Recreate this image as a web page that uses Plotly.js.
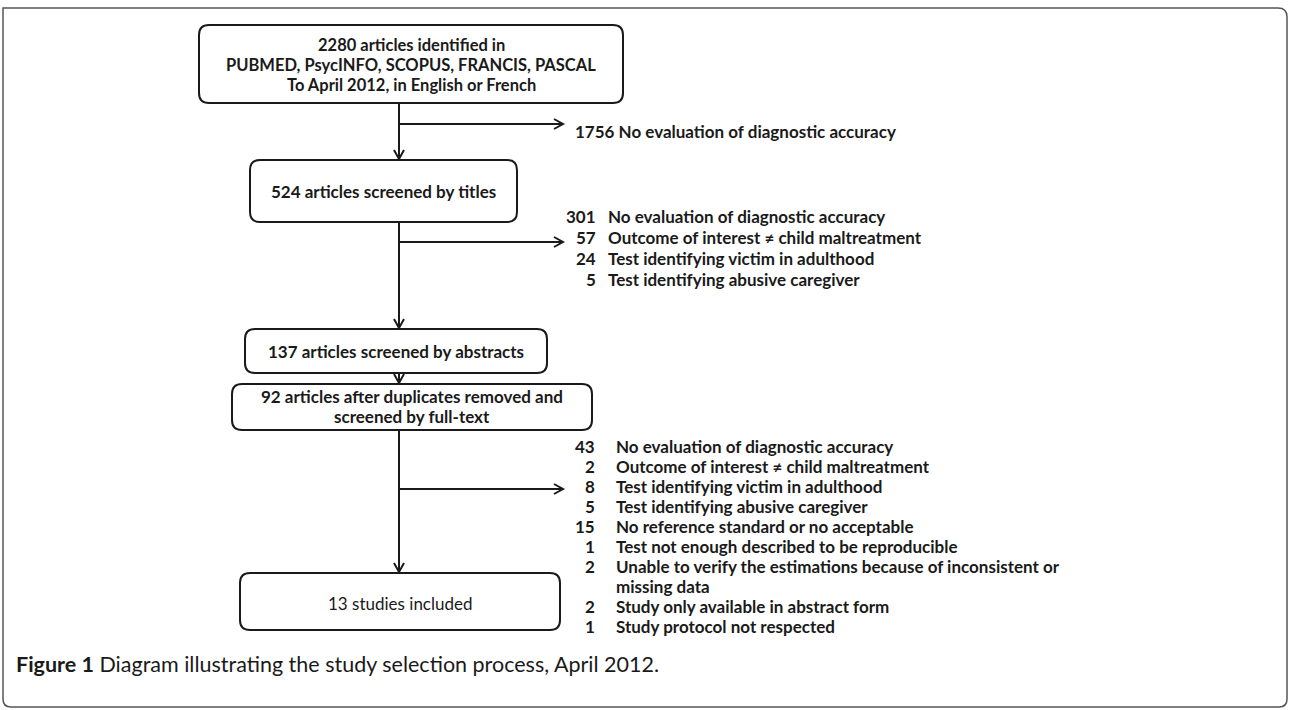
<!DOCTYPE html>
<html>
<head>
<meta charset="utf-8">
<script src="https://cdn.plot.ly/plotly-3.0.1.min.js"></script>
<style>html,body{margin:0;padding:0;background:#fff;}#chart{width:1290px;height:710px;}</style>
</head>
<body>
<div id="chart"></div>
<script>
// ---- data ----
var boxLabels = [
  ["2280 articles identified in", "PUBMED, PsycINFO, SCOPUS, FRANCIS, PASCAL", "To April 2012, in English or French"],
  ["524 articles screened by titles"],
  ["137 articles screened by abstracts"],
  ["92 articles after duplicates removed and", "screened by full-text"],
  ["13 studies included"]
];
var excl1Counts = [1756];
var excl1Reasons = ["No evaluation of diagnostic accuracy"];
var excl2Counts = [301, 57, 24, 5];
var excl2Reasons = ["No evaluation of diagnostic accuracy", "Outcome of interest \u2260 child maltreatment",
  "Test identifying victim in adulthood", "Test identifying abusive caregiver"];
var excl3Counts = [43, 2, 8, 5, 15, 1, 2, null, 2, 1];
var excl3Reasons = ["No evaluation of diagnostic accuracy", "Outcome of interest \u2260 child maltreatment",
  "Test identifying victim in adulthood", "Test identifying abusive caregiver",
  "No reference standard or no acceptable", "Test not enough described to be reproducible",
  "Unable to verify the estimations because of inconsistent or", "missing data",
  "Study only available in abstract form", "Study protocol not respected"];
var captionBold = "Figure 1";
var captionText = " Diagram illustrating the study selection process, April 2012.";

// ---- geometry (layout only) ----
var G = {
  cx: 399,
  boxes: [
    {x0:199, x1:623, y0:25,  y1:103, ys:[45,65,85], bold:true, fs:16.5},
    {x0:250, x1:517, y0:160, y1:222, ys:[191], bold:true, fs:17},
    {x0:245, x1:547, y0:329, y1:373, ys:[351], bold:true, fs:17},
    {x0:232, x1:592, y0:384, y1:430, ys:[396,416], bold:true, fs:17},
    {x0:240, x1:560, y0:573, y1:630, ys:[603], bold:false, fs:17}
  ],
  arrowTip: 563,
  branchY: [124, 242, 489],
  list1: {x:573, ys:[131]},
  list2: {numRight:598, textX:606, y0:216, dy:21},
  list3: {numRight:597, textX:614, y0:446, dy:20},
  caption: {x:14, y:664},
  listFs: 17
};

var FONT = "Lato, 'Open Sans', sans-serif";
var ink = "#1a1a1a";
var shapes = [], ann = [];

function rrect(b, r) {
  return "M" + (b.x0 + r) + "," + b.y0 + " L" + (b.x1 - r) + "," + b.y0 +
    " Q" + b.x1 + "," + b.y0 + " " + b.x1 + "," + (b.y0 + r) +
    " L" + b.x1 + "," + (b.y1 - r) + " Q" + b.x1 + "," + b.y1 + " " + (b.x1 - r) + "," + b.y1 +
    " L" + (b.x0 + r) + "," + b.y1 + " Q" + b.x0 + "," + b.y1 + " " + b.x0 + "," + (b.y1 - r) +
    " L" + b.x0 + "," + (b.y0 + r) + " Q" + b.x0 + "," + b.y0 + " " + (b.x0 + r) + "," + b.y0 + " Z";
}
function line(x0, y0, x1, y1) {
  shapes.push({type:"line", xref:"x", yref:"y", x0:x0, y0:y0, x1:x1, y1:y1, line:{color:ink, width:2}});
}
function head(x, y, dir) {
  var p;
  if (dir === "down") p = "M" + (x - 5) + "," + (y - 9) + " L" + x + "," + y + " L" + (x + 5) + "," + (y - 9);
  else p = "M" + (x - 9) + "," + (y - 5) + " L" + x + "," + y + " L" + (x - 9) + "," + (y + 5);
  shapes.push({type:"path", xref:"x", yref:"y", path:p, line:{color:ink, width:2}});
}
function txt(x, y, s, anchor, bold, size) {
  ann.push({xref:"x", yref:"y", x:x, y:y, text: bold ? "<b>" + s + "</b>" : s, showarrow:false,
    xanchor:anchor, yanchor:"middle", font:{family:FONT, size:size, color:ink}});
}

// outer frame
shapes.push({type:"path", xref:"x", yref:"y",
  path:"M3,8 L1278,8 Q1287,8 1287,17 L1287,699 Q1287,707 1279,707 L11,707 Q3,707 3,699 Z",
  line:{color:"#555", width:1.5}});

// boxes
G.boxes.forEach(function (b, i) {
  shapes.push({type:"path", xref:"x", yref:"y", path:rrect(b, 10), line:{color:ink, width:2}, fillcolor:"rgba(0,0,0,0)"});
  boxLabels[i].forEach(function (s, k) { txt((b.x0 + b.x1) / 2, b.ys[k], s, "center", b.bold, b.fs); });
});
// vertical connectors
for (var i = 0; i < G.boxes.length - 1; i++) {
  line(G.cx, G.boxes[i].y1, G.cx, G.boxes[i + 1].y0 - 1);
  head(G.cx, G.boxes[i + 1].y0 - 1, "down");
}
// branches
G.branchY.forEach(function (y) { line(G.cx, y, G.arrowTip, y); head(G.arrowTip, y, "right"); });

// exclusion lists
txt(G.list1.x, G.list1.ys[0], excl1Counts[0] + " " + excl1Reasons[0], "left", true, G.listFs);
excl2Counts.forEach(function (c, k) {
  var y = G.list2.y0 + k * G.list2.dy;
  txt(G.list2.numRight, y, String(c), "right", true, G.listFs);
  txt(G.list2.textX, y, excl2Reasons[k], "left", true, G.listFs);
});
excl3Reasons.forEach(function (r, k) {
  var y = G.list3.y0 + k * G.list3.dy;
  if (excl3Counts[k] !== null) txt(G.list3.numRight, y, String(excl3Counts[k]), "right", true, G.listFs);
  txt(G.list3.textX, y, r, "left", true, G.listFs);
});

// caption
txt(G.caption.x, G.caption.y, "<b>" + captionBold + "</b>" + captionText, "left", false, 21.5);

Plotly.newPlot("chart", [], {
  width:1290, height:710, margin:{l:0, r:0, t:0, b:0},
  paper_bgcolor:"#fff", plot_bgcolor:"#fff", showlegend:false,
  xaxis:{range:[0, 1290], visible:false, fixedrange:true},
  yaxis:{range:[710, 0], visible:false, fixedrange:true},
  shapes:shapes, annotations:ann
}, {staticPlot:true, displayModeBar:false});
</script>
</body>
</html>
